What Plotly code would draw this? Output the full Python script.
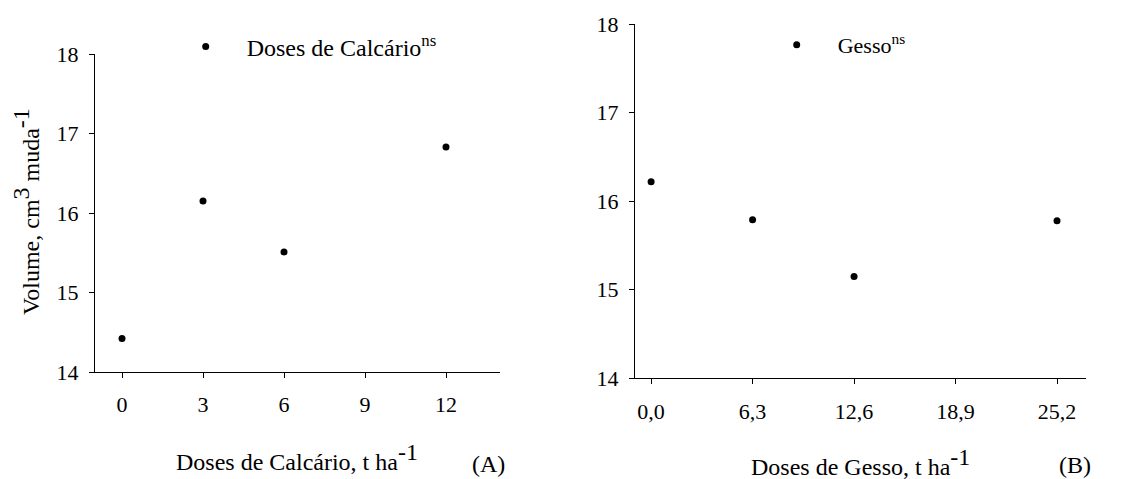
import plotly.graph_objects as go

# Data
calc_doses = [0, 3, 6, 12]
calc_volume = [14.42, 16.15, 15.51, 16.83]
gesso_doses = [0, 6.3, 12.6, 25.2]
gesso_volume = [16.22, 15.79, 15.15, 15.78]

calc_ticks = [0, 3, 6, 9, 12]
calc_ticktext = ["0", "3", "6", "9", "12"]
gesso_ticks = [0, 6.3, 12.6, 18.9, 25.2]
gesso_ticktext = ["0,0", "6,3", "12,6", "18,9", "25,2"]
y_ticks = [14, 15, 16, 17, 18]

W, H = 1141, 479
FONT = "Liberation Serif, Times New Roman, serif"

fig = go.Figure()
fig.add_trace(go.Scatter(x=calc_doses, y=calc_volume, mode="markers",
                         name="Doses de Calcário<sup>ns</sup>",
                         marker=dict(color="black", size=7),
                         xaxis="x", yaxis="y", legend="legend"))
fig.add_trace(go.Scatter(x=gesso_doses, y=gesso_volume, mode="markers",
                         name="Gesso<sup>ns</sup>",
                         marker=dict(color="black", size=7),
                         xaxis="x2", yaxis="y2", legend="legend2"))

def px_x(v):
    return v / W

def px_y(v):
    return 1 - v / H

axis_common = dict(showline=True, linecolor="black", linewidth=1, ticks="outside",
                   ticklen=5, tickcolor="black", showgrid=False, zeroline=False,
                   automargin=False,
                   tickfont=dict(family=FONT, size=22, color="black"))

fig.update_layout(
    width=W, height=H,
    margin=dict(l=0, r=0, t=0, b=0, pad=0, autoexpand=False),
    paper_bgcolor="white", plot_bgcolor="white",
    font=dict(family=FONT, color="black"),
    xaxis=dict(domain=[px_x(95), px_x(500)], range=[-1, 14], tickvals=calc_ticks,
               ticktext=calc_ticktext, anchor="y", ticklabelstandoff=8, **axis_common),
    yaxis=dict(domain=[px_y(372), px_y(54)], range=[14, 18], tickvals=y_ticks,
               anchor="x", ticklabelstandoff=6, **axis_common),
    xaxis2=dict(domain=[px_x(635), px_x(1086)], range=[-1, 27], tickvals=gesso_ticks,
                ticktext=gesso_ticktext, anchor="y2", ticklabelstandoff=8, **axis_common),
    yaxis2=dict(domain=[px_y(378.3), px_y(24)], range=[14, 18], tickvals=y_ticks,
                anchor="x2", ticklabelstandoff=6, **axis_common),
    legend=dict(x=px_x(205.7 - 41), y=px_y(47), xanchor="left", yanchor="middle",
                itemwidth=72, bgcolor="rgba(0,0,0,0)", borderwidth=0,
                font=dict(family=FONT, size=24, color="black")),
    legend2=dict(x=px_x(796.7 - 41), y=px_y(45), xanchor="left", yanchor="middle",
                 itemwidth=72, bgcolor="rgba(0,0,0,0)", borderwidth=0,
                 font=dict(family=FONT, size=22, color="black")),
    showlegend=True,
)

def big_sup(s):
    return '<sup><span style="font-size:24px">' + s + '</span></sup>'

ann_font = dict(family=FONT, size=24, color="black")
fig.add_annotation(text="Volume, cm" + big_sup("3") + " muda" + big_sup("-1"), textangle=-90,
                   xref="paper", yref="paper", x=px_x(26), y=px_y(212),
                   xanchor="center", yanchor="middle", showarrow=False, font=ann_font)
fig.add_annotation(text="Doses de Calcário, t ha" + big_sup("-1"),
                   xref="paper", yref="paper", x=px_x(296.5), y=px_y(457),
                   xanchor="center", yanchor="middle", showarrow=False, font=ann_font)
fig.add_annotation(text="(A)", xref="paper", yref="paper", x=px_x(488), y=px_y(464),
                   xanchor="center", yanchor="middle", showarrow=False, font=ann_font)
fig.add_annotation(text="Doses de Gesso, t ha" + big_sup("-1"),
                   xref="paper", yref="paper", x=px_x(860), y=px_y(462),
                   xanchor="center", yanchor="middle", showarrow=False, font=ann_font)
fig.add_annotation(text="(B)", xref="paper", yref="paper", x=px_x(1075), y=px_y(465),
                   xanchor="center", yanchor="middle", showarrow=False, font=ann_font)

fig.write_html("out.html")
